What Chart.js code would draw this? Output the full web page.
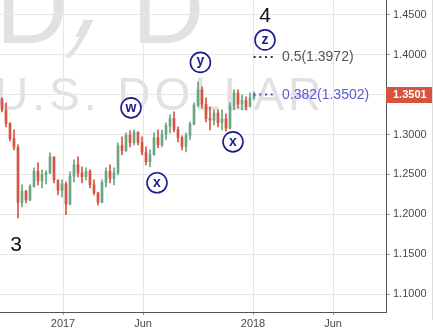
<!DOCTYPE html>
<html>
<head>
<meta charset="utf-8">
<script src="https://cdn.jsdelivr.net/npm/chart.js@4.4.1/dist/chart.umd.min.js"></script>
<style>
  html, body { margin: 0; padding: 0; background: #fff; }
</style>
</head>
<body>
<canvas id="chart" width="433" height="331"></canvas>
<script>
// weekly OHLC (one bar per week, oldest first)
const opens = [
  1.3445,1.3310,1.3140,1.2950,1.2840,1.2150,1.2290,1.2180,
  1.2350,1.2540,1.2420,1.2500,1.2520,1.2720,1.2430,1.2300,
  1.2380,1.2130,1.2480,1.2620,1.2520,1.2470,1.2540,1.2370,
  1.2270,1.2150,1.2400,1.2540,1.2450,1.2520,1.2860,1.2800,
  1.2990,1.2900,1.3030,1.2900,1.2780,1.2660,1.2750,1.2960,
  1.2870,1.3000,1.3110,1.3200,1.3060,1.2960,1.2850,1.2990,
  1.3130,1.3370,1.3560,1.3380,1.3200,1.3180,1.3270,1.3150,
  1.3200,1.3080,1.3360,1.3520,1.3380,1.3430,1.3350,1.3460
];
const highs = [
  1.3460,1.3397,1.3150,1.3059,1.2871,1.2370,1.2300,1.2370,
  1.2583,1.2645,1.2558,1.2545,1.2771,1.2721,1.2432,1.2432,
  1.2407,1.2533,1.2683,1.2721,1.2595,1.2583,1.2560,1.2432,
  1.2280,1.2432,1.2583,1.2620,1.2583,1.2896,1.2971,1.3021,
  1.3046,1.3059,1.3034,1.2971,1.2846,1.2808,1.3021,1.3059,
  1.3059,1.3147,1.3247,1.3284,1.3097,1.2984,1.3021,1.3159,
  1.3397,1.3660,1.3598,1.3460,1.3347,1.3310,1.3310,1.3310,
  1.3259,1.3397,1.3560,1.3560,1.3498,1.3472,1.3523,1.3535
];
const lows = [
  1.3284,1.3097,1.2921,1.2808,1.1956,1.2094,1.2144,1.2170,
  1.2340,1.2370,1.2332,1.2382,1.2510,1.2395,1.2244,1.2219,
  1.1994,1.2119,1.2407,1.2470,1.2395,1.2432,1.2332,1.2244,
  1.2119,1.2144,1.2345,1.2395,1.2370,1.2495,1.2746,1.2790,
  1.2846,1.2871,1.2871,1.2746,1.2620,1.2595,1.2740,1.2833,
  1.2846,1.2934,1.3021,1.3034,1.2909,1.2808,1.2783,1.2934,
  1.3122,1.3347,1.3335,1.3159,1.3059,1.3122,1.3097,1.3059,
  1.3046,1.3070,1.3310,1.3335,1.3310,1.3310,1.3347,1.3435
];
const closes = [
  1.3310,1.3140,1.2950,1.2840,1.2150,1.2290,1.2180,1.2350,
  1.2540,1.2420,1.2500,1.2520,1.2720,1.2430,1.2300,1.2380,
  1.2130,1.2480,1.2620,1.2520,1.2470,1.2540,1.2370,1.2270,
  1.2150,1.2400,1.2540,1.2450,1.2520,1.2860,1.2800,1.2990,
  1.2900,1.3030,1.2900,1.2780,1.2660,1.2750,1.2960,1.2870,
  1.3000,1.3110,1.3200,1.3060,1.2960,1.2850,1.2990,1.3130,
  1.3370,1.3560,1.3380,1.3200,1.3180,1.3270,1.3150,1.3200,
  1.3080,1.3360,1.3520,1.3380,1.3430,1.3350,1.3460,1.3501
];

// time axis in weeks from the left edge
const xTickPos = [15.75, 35.75, 63.25, 83.25];
const xTickLabels = ['2017', 'Jun', '2018', 'Jun'];
const yTickValues = [1.10, 1.15, 1.20, 1.25, 1.30, 1.35, 1.40, 1.45];

// fibonacci levels
const fibRatios = ['0.5', '0.382'];
const fibPrices = [1.3972, 1.3502];
const fibColors = ['#333333', '#4d4dd6'];
const fibTextColors = ['#555555', '#5a5ad8'];
const fibFrom = 63.4, fibTo = 69;

// wave labels (circled) and counts
const waveText = ['w', 'x', 'y', 'x', 'z'];
const waveWeek = [32.75, 39.25, 50.1, 58.25, 66.25];
const wavePrice = [1.3335, 1.2395, 1.3905, 1.2909, 1.4187];
const countText = ['3', '4'];
const countWeek = [4, 66.25];
const countPrice = [1.1618, 1.4487];

const UP = '#6ba583', DOWN = '#d75442';
const FONT = '"Liberation Sans", Arial, sans-serif';

const barColors = closes.map((c, i) => c >= opens[i] ? UP : DOWN);
const wickData = highs.map((h, i) => ({ x: i + 0.5, y: [lows[i], h] }));
const bodyData = closes.map((c, i) => ({ x: i + 0.5, y: [opens[i], c] }));

const fibSets = fibPrices.map((p, k) => ({
  type: 'line',
  data: [{ x: fibFrom, y: p }, { x: fibTo, y: p }],
  borderColor: fibColors[k],
  borderWidth: 2,
  borderDash: [2, 3.7],
  pointRadius: 0,
  fill: false
}));

const overlay = {
  id: 'overlay',
  beforeDraw(chart) {
    const c = chart.ctx;
    c.save();
    c.fillStyle = '#fff';
    c.fillRect(0, 0, chart.width, chart.height);
    // watermark
    c.fillStyle = '#e1e1e1';
    c.textBaseline = 'alphabetic';
    c.font = '100px ' + FONT;
    c.textAlign = 'right';
    c.fillText('D', 68, 43);
    c.textAlign = 'left';
    c.fillText('D', 132, 43);
    c.save();
    c.setTransform(1, 0, -0.8, 1.6, 66, 37);
    c.fillText(',', 0, 0);
    c.restore();
    c.font = '46px ' + FONT;
    c.letterSpacing = '4px';
    c.fillText('U.S. DOLLAR', -5, 110);
    c.letterSpacing = '0px';
    c.restore();
  },
  afterDatasetsDraw(chart) {
    const c = chart.ctx, xs = chart.scales.x, ys = chart.scales.y;
    c.save();
    c.textBaseline = 'middle';
    c.textAlign = 'left';
    c.font = '14px ' + FONT;
    fibPrices.forEach((p, k) => {
      c.fillStyle = fibTextColors[k];
      c.fillText(fibRatios[k] + '(' + p.toFixed(4) + ')', xs.getPixelForValue(fibTo) + 6, ys.getPixelForValue(p) + 0.5);
    });
    c.textAlign = 'center';
    waveText.forEach((t, k) => {
      const px = xs.getPixelForValue(waveWeek[k]), py = ys.getPixelForValue(wavePrice[k]);
      c.beginPath();
      c.arc(px, py, 10, 0, Math.PI * 2);
      c.fillStyle = '#fff';
      c.fill();
      c.lineWidth = 1.6;
      c.strokeStyle = '#1c1c8c';
      c.stroke();
      c.fillStyle = '#1c1c8c';
      c.font = 'bold 14px ' + FONT;
      c.fillText(t, px, py + (t === 'y' ? -1 : 0));
    });
    c.fillStyle = '#111';
    c.font = '21px ' + FONT;
    countText.forEach((t, k) => {
      c.fillText(t, xs.getPixelForValue(countWeek[k]), ys.getPixelForValue(countPrice[k]));
    });
    c.restore();
  },
  afterDraw(chart) {
    const c = chart.ctx, a = chart.chartArea, ys = chart.scales.y;
    const last = closes[closes.length - 1];
    const py = ys.getPixelForValue(last);
    c.save();
    c.fillStyle = '#d6533e';
    c.fillRect(a.right, Math.round(py) - 8, 46, 16);
    c.fillStyle = '#fff';
    c.font = 'bold 11px ' + FONT;
    c.textAlign = 'left';
    c.textBaseline = 'middle';
    c.fillText(last.toFixed(4), a.right + 7, Math.round(py));
    c.strokeStyle = '#dddddd';
    c.lineWidth = 1;
    c.beginPath();
    c.moveTo(432.5, 0);
    c.lineTo(432.5, 320);
    c.stroke();
    c.restore();
  }
};

const ctx = document.getElementById('chart').getContext('2d');
new Chart(ctx, {
  type: 'bar',
  data: {
    datasets: [
      {
        data: wickData,
        backgroundColor: barColors,
        barThickness: 1,
        grouped: false,
        order: 2
      },
      {
        data: bodyData,
        backgroundColor: barColors,
        barThickness: 2,
        minBarLength: 1,
        grouped: false,
        order: 1
      },
      ...fibSets
    ]
  },
  options: {
    responsive: false,
    animation: false,
    devicePixelRatio: 1,
    events: [],
    layout: { padding: 0 },
    plugins: { legend: { display: false }, tooltip: { enabled: false } },
    scales: {
      x: {
        type: 'linear',
        min: 0,
        max: 96.5,
        offset: false,
        grid: { color: '#e6e6e6', offset: false, tickLength: 3, tickColor: '#999' },
        border: { display: true, color: '#555', width: 1 },
        afterBuildTicks: s => { s.ticks = xTickPos.map(v => ({ value: v })); },
        afterFit: s => { s.height = 19; s.paddingLeft = 0; s.paddingRight = 0; },
        ticks: {
          autoSkip: false,
          maxRotation: 0,
          padding: 2,
          color: '#4a4a4a',
          font: { family: FONT, size: 11 },
          callback: v => xTickLabels[xTickPos.indexOf(v)]
        }
      },
      y: {
        position: 'right',
        min: 1.0775,
        max: 1.46875,
        grid: { color: '#e6e6e6', tickLength: 4, tickColor: '#999' },
        border: { display: true, color: '#555', width: 1 },
        afterBuildTicks: s => { s.ticks = yTickValues.map(v => ({ value: v })); },
        afterFit: s => { s.width = 47; s.paddingTop = 0; s.paddingBottom = 0; },
        ticks: {
          padding: 3,
          color: '#4a4a4a',
          font: { family: FONT, size: 11 },
          callback: v => v.toFixed(4)
        }
      }
    }
  },
  plugins: [overlay]
});
</script>
</body>
</html>
